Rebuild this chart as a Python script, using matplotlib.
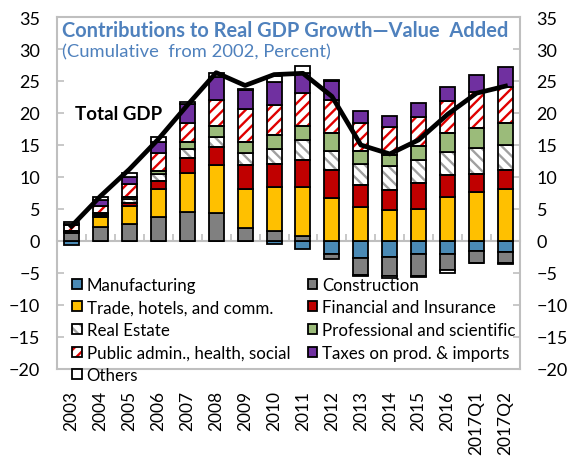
import matplotlib
matplotlib.use("Agg")
import matplotlib.pyplot as plt
import numpy as np
from matplotlib.patches import Patch
from matplotlib.legend_handler import HandlerTuple

plt.rcParams['font.family'] = ['Lato', 'DejaVu Sans']

categories = ["2003", "2004", "2005", "2006", "2007", "2008", "2009", "2010",
              "2011", "2012", "2013", "2014", "2015", "2016", "2017Q1", "2017Q2"]

manufacturing = [-0.7, 0.0, 0.0, 0.0, 0.0, 0.0, 0.0, -0.5, -1.2, -2.1, -2.7, -2.5, -2.1, -2.0, -1.5, -1.7]
construction = [1.2, 2.2, 2.7, 3.7, 4.6, 4.4, 2.1, 1.5, 0.8, -0.7, -2.6, -3.0, -3.3, -2.6, -1.9, -1.8]
trade = [0.1, 1.5, 2.8, 4.4, 6.1, 7.4, 6.0, 6.9, 7.6, 6.7, 5.3, 4.8, 5.0, 6.8, 7.6, 8.1]
financial = [0.1, 0.2, 0.5, 1.3, 2.2, 2.9, 3.7, 3.7, 4.2, 4.4, 3.5, 3.2, 4.0, 3.5, 2.9, 3.0]
real_estate = [0.1, 0.3, 0.6, 1.1, 1.4, 1.5, 1.9, 2.2, 3.2, 3.0, 3.2, 3.7, 3.6, 3.6, 4.0, 3.9]
professional = [0.0, 0.1, 0.2, 0.4, 1.1, 1.8, 1.8, 2.3, 2.2, 2.7, 2.0, 1.7, 2.2, 3.0, 3.1, 3.4]
public = [1.0, 1.2, 2.1, 2.9, 3.1, 4.1, 5.1, 4.7, 5.2, 5.2, 4.5, 4.4, 4.6, 5.0, 5.7, 5.7]
taxes = [0.2, 0.9, 1.1, 1.6, 2.9, 3.5, 3.0, 3.5, 3.1, 3.0, 1.8, 1.7, 2.1, 2.2, 2.6, 3.1]
others = [0.3, 0.5, 0.6, 0.8, 0.3, 0.6, 0.2, 1.0, 1.0, 0.1, -0.2, -0.3, -0.2, -0.4, -0.1, -0.1]
total_gdp = [2.3, 7.0, 11.2, 15.9, 21.2, 26.3, 24.3, 26.0, 26.2, 22.6, 15.0, 13.6, 15.8, 19.8, 23.1, 24.2]

series = [
    ("Manufacturing", manufacturing, "#4A8AB5", None, None),
    ("Construction", construction, "#808080", None, None),
    ("Trade, hotels, and comm.", trade, "#FFC000", None, None),
    ("Financial and Insurance", financial, "#C00000", None, None),
    ("Real Estate", real_estate, "white", "\\\\\\", "#A0A0A0"),
    ("Professional and scientific", professional, "#9BBB7A", None, None),
    ("Public admin., health, social", public, "white", "///", "#E00000"),
    ("Taxes on prod. & imports", taxes, "#7030A0", None, None),
    ("Others", others, "white", None, None),
]

fig = plt.figure(figsize=(5.71, 4.60), dpi=100)
ax = fig.add_axes([57/571, 1-370/460, 463/571, 352/460])

x = np.arange(len(categories))
width = 0.52
pos_bottom = np.zeros(len(categories))
neg_bottom = np.zeros(len(categories))
plt.rcParams['hatch.linewidth'] = 1.7

handles = {}
for name, vals, color, hatch, hcolor in series:
    v = np.array(vals, dtype=float)
    bottoms = np.where(v >= 0, pos_bottom, neg_bottom)
    if hatch:
        ax.bar(x, v, width, bottom=bottoms, facecolor=color, edgecolor=hcolor,
               hatch=hatch, linewidth=0, zorder=2)
        ax.bar(x, v, width, bottom=bottoms, facecolor="none", edgecolor="black",
               linewidth=1.3, zorder=3)
        h = (Patch(facecolor=color, edgecolor=hcolor, hatch=hatch, linewidth=0),
             Patch(facecolor="none", edgecolor="black", linewidth=1.3))
    else:
        ax.bar(x, v, width, bottom=bottoms, facecolor=color, edgecolor="black",
               linewidth=1.3, zorder=3)
        h = Patch(facecolor=color, edgecolor="black", linewidth=1.3)
    handles[name] = h
    pos_bottom = pos_bottom + np.where(v >= 0, v, 0)
    neg_bottom = neg_bottom + np.where(v < 0, v, 0)

ax.plot(x, total_gdp, color="black", linewidth=3.4, zorder=5, solid_joinstyle="round")

ax.set_xlim(-0.5, len(categories) - 0.5)
ax.set_ylim(-20, 35)
ax.set_yticks(np.arange(-20, 36, 5))
ax.tick_params(axis='y', which='both', direction='in', length=5, color='#BFBFBF',
               width=1.2, labelsize=13, left=True, right=True,
               labelleft=True, labelright=True, pad=12)
ax.set_xticks(x)
ax.set_xticklabels(categories, rotation=90, fontsize=12.5)
ax.tick_params(axis='x', length=0, pad=15)
for s in ax.spines.values():
    s.set_color('#BFBFBF')
    s.set_linewidth(1.5)

# zero line with category separators
zero_frac = 20 / 55
sec = ax.secondary_xaxis(zero_frac)
sec.set_xticks(np.arange(-0.5, len(categories), 1.0)[1:-1])
sec.tick_params(direction='in', length=5, color='#BFBFBF', width=1.2, labelbottom=False,
                labeltop=False)
sec.spines['bottom'].set_color('#BFBFBF')
sec.spines['bottom'].set_linewidth(1.5)
sec.spines['top'].set_color('#BFBFBF')
sec.spines['top'].set_linewidth(1.5)

ax.text(0.011, 0.962, "Contributions to Real GDP Growth\u2014Value  Added", transform=ax.transAxes,
        fontsize=14.4, fontweight='bold', color='#4F81BD', va='center', ha='left')
ax.text(0.011, 0.903, "(Cumulative  from 2002, Percent)", transform=ax.transAxes,
        fontsize=13.2, color='#4F81BD', va='center', ha='left')
ax.text(0.12, 20, "Total GDP", fontsize=13.5, fontweight='bold', color='black',
        va='center', ha='left', zorder=6)

order = ["Manufacturing", "Trade, hotels, and comm.", "Real Estate",
         "Public admin., health, social", "Others",
         "Construction", "Financial and Insurance", "Professional and scientific",
         "Taxes on prod. & imports"]
leg = ax.legend([handles[n] for n in order], order, ncol=2, loc='upper left',
                bbox_to_anchor=(0.033, 0.262), frameon=False, fontsize=12.2,
                handlelength=0.55, handleheight=0.55, handletextpad=0.3,
                columnspacing=1.05, labelspacing=0.39, borderaxespad=0, borderpad=0,
                handler_map={tuple: HandlerTuple(ndivide=1)})
leg.set_zorder(10)

fig.savefig("out.png", dpi=100)
